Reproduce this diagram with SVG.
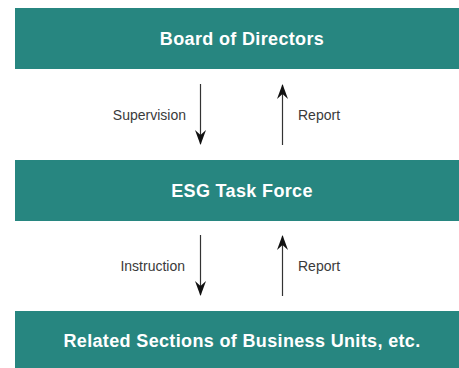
<svg xmlns="http://www.w3.org/2000/svg" width="459" height="368" viewBox="0 0 459 368">
  <style>
    .box { fill: #278680; }
    .title { font-family: "Liberation Sans", Arial, sans-serif; font-weight: bold; font-size: 18px; fill: #ffffff; text-anchor: middle; letter-spacing: 0.35px; }
    .lbl { font-family: "Liberation Sans", Arial, sans-serif; font-size: 14px; fill: #3a3a3a; }
    .edge { stroke: #333333; stroke-width: 1.2; fill: none; }
  </style>
  <defs>
    <!-- barbed arrowhead, pointing along the line direction -->
    <marker id="head" viewBox="0 0 15 11" refX="14" refY="5.5" markerWidth="15" markerHeight="11" markerUnits="userSpaceOnUse" orient="auto">
      <path d="M0,0 L15,5.5 L0,11 L5,5.5 Z" fill="#111111"/>
    </marker>
  </defs>

  <g id="board">
    <rect class="box" x="15" y="8" width="444" height="61"/>
    <text class="title" x="242" y="45">Board of Directors</text>
  </g>
  <g id="task-force">
    <rect class="box" x="15" y="160" width="444" height="61"/>
    <text class="title" x="242" y="197">ESG Task Force</text>
  </g>
  <g id="business-units">
    <rect class="box" x="15" y="311" width="444" height="57"/>
    <text class="title" x="242" y="347">Related Sections of Business Units, etc.</text>
  </g>

  <g id="connectors">
    <line class="edge" x1="200.5" y1="84" x2="200.5" y2="144" marker-end="url(#head)"/>
    <line class="edge" x1="282.5" y1="145" x2="282.5" y2="85" marker-end="url(#head)"/>
    <line class="edge" x1="200.5" y1="235" x2="200.5" y2="295" marker-end="url(#head)"/>
    <line class="edge" x1="282.5" y1="296" x2="282.5" y2="236" marker-end="url(#head)"/>
    <text class="lbl" x="186" y="120" text-anchor="end">Supervision</text>
    <text class="lbl" x="298" y="120">Report</text>
    <text class="lbl" x="185" y="271" text-anchor="end">Instruction</text>
    <text class="lbl" x="298" y="271">Report</text>
  </g>
</svg>
